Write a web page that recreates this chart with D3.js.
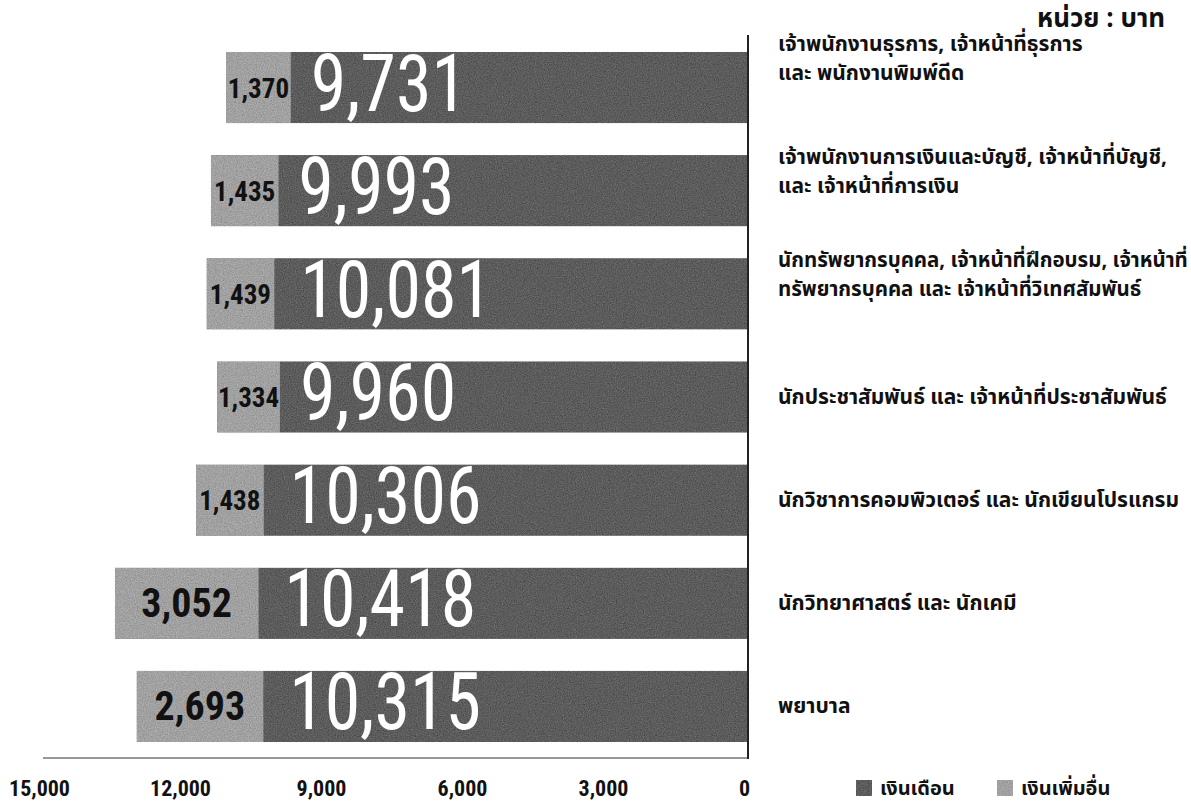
<!DOCTYPE html>
<html>
<head>
<meta charset="utf-8">
<script src="https://cdn.jsdelivr.net/npm/d3@7"></script>
<style>
  html, body { margin: 0; padding: 0; background: #fff; }
  svg { display: block; }
  .thai { font-family: "Noto Sans Thai", "Noto Sans Thai UI", "Loma", "Garuda", "Tlwg Typo", "Noto Sans", "DejaVu Sans", sans-serif; }
  .num { font-family: "Liberation Sans Narrow", "Roboto Condensed", "DejaVu Sans Condensed", sans-serif; }
</style>
</head>
<body>
<svg id="chart" width="1191" height="803"></svg>
<script>
// ---- data ----
const categories = [
  ["เจ้าพนักงานธุรการ, เจ้าหน้าที่ธุรการ", "และ พนักงานพิมพ์ดีด"],
  ["เจ้าพนักงานการเงินและบัญชี, เจ้าหน้าที่บัญชี,", "และ เจ้าหน้าที่การเงิน"],
  ["นักทรัพยากรบุคคล, เจ้าหน้าที่ฝึกอบรม, เจ้าหน้าที่", "ทรัพยากรบุคคล และ เจ้าหน้าที่วิเทศสัมพันธ์"],
  ["นักประชาสัมพันธ์ และ เจ้าหน้าที่ประชาสัมพันธ์"],
  ["นักวิชาการคอมพิวเตอร์ และ นักเขียนโปรแกรม"],
  ["นักวิทยาศาสตร์ และ นักเคมี"],
  ["พยาบาล"]
];
const salary = [9731, 9993, 10081, 9960, 10306, 10418, 10315];   // เงินเดือน
const extra  = [1370, 1435, 1439, 1334, 1438, 3052, 2693];       // เงินเพิ่มอื่น
const tickValues = [15000, 12000, 9000, 6000, 3000, 0];
const legendLabels = ["เงินเดือน", "เงินเพิ่มอื่น"];
const unitLabel = "หน่วย : บาท";

// ---- chart ----
const svg = d3.select("#chart");
const colDark = "#5b5b5b", colLight = "#a0a0a0";

// grain filter to mimic the printed halftone texture
const defs = svg.append("defs");
const f = defs.append("filter").attr("id", "grain").attr("x", 0).attr("y", 0).attr("width", 1).attr("height", 1)
  .attr("color-interpolation-filters", "sRGB");
f.append("feTurbulence").attr("type", "fractalNoise").attr("baseFrequency", 0.85).attr("numOctaves", 2).attr("seed", 7).attr("result", "n");
f.append("feColorMatrix").attr("in", "n").attr("type", "matrix")
  .attr("values", "0.33 0.33 0.33 0 0  0.33 0.33 0.33 0 0  0.33 0.33 0.33 0 0  0 0 0 0 1").attr("result", "g");
f.append("feComposite").attr("in", "SourceGraphic").attr("in2", "g").attr("operator", "arithmetic")
  .attr("k1", 0).attr("k2", 1).attr("k3", 0.45).attr("k4", -0.22).attr("result", "m");
f.append("feComposite").attr("in", "m").attr("in2", "SourceGraphic").attr("operator", "in");

const idx = d3.range(categories.length);
const x = d3.scaleLinear().domain([0, 15000]).range([748, 43]);
const y = d3.scaleBand().domain(idx).range([36, 758]).paddingInner(0.31).paddingOuter(0.155);
const fmt = d3.format(",");

const bars = svg.append("g");
const rects = bars.append("g").attr("filter", "url(#grain)");
// salary (dark) part
rects.selectAll("rect.sal").data(idx).join("rect")
  .attr("x", i => x(salary[i]))
  .attr("y", i => y(i))
  .attr("width", i => x(0) - x(salary[i]))
  .attr("height", y.bandwidth())
  .attr("fill", colDark);
// extra (light) part
rects.selectAll("rect.ext").data(idx).join("rect")
  .attr("x", i => x(salary[i] + extra[i]))
  .attr("y", i => y(i))
  .attr("width", i => x(salary[i]) - x(salary[i] + extra[i]))
  .attr("height", y.bandwidth())
  .attr("fill", colLight);

// big white salary numbers
bars.selectAll("text.big").data(idx).join("text")
  .attr("class", "num")
  .attr("transform", i => `translate(${x(salary[i]) + (salary[i] >= 10000 ? 26 : 20)},${y(i) + y.bandwidth() / 2 + 23}) scale(0.9,1)`)
  .attr("font-size", 80)
  .attr("fill", "#fff")
  .text(i => fmt(salary[i]));

// small extra labels
bars.selectAll("text.small").data(idx).join("text")
  .attr("class", "num")
  .attr("x", i => (x(salary[i]) + x(salary[i] + extra[i])) / 2)
  .attr("y", i => y(i) + y.bandwidth() / 2 + (extra[i] > 2000 ? 14 : 10))
  .attr("text-anchor", "middle")
  .attr("font-size", i => extra[i] > 2000 ? 40 : 27)
  .attr("font-weight", "bold")
  .attr("fill", "#111")
  .text(i => fmt(extra[i]));

// axes lines
svg.append("line").attr("x1", x(0)).attr("x2", x(0)).attr("y1", 35).attr("y2", 759)
  .attr("stroke", "#222").attr("stroke-width", 2);
svg.append("line").attr("x1", x(15000)).attr("x2", x(0)).attr("y1", 758).attr("y2", 758)
  .attr("stroke", "#333").attr("stroke-width", 1.2);

// x tick labels
const axis = d3.axisBottom(x).tickValues(tickValues).tickFormat(fmt).tickSize(0).tickPadding(0);
const ax = svg.append("g").attr("transform", "translate(-4,780)").call(axis);
ax.select(".domain").remove();
ax.selectAll("text").attr("class", "num").attr("font-size", 22).attr("font-weight", "bold").attr("fill", "#111");

// category labels
const lab = svg.append("g");
const maxW = 1188 - 778;
idx.forEach(i => {
  const lines = categories[i];
  const cy = y(i) + y.bandwidth() / 2;
  const t = lab.append("text").attr("class", "thai").attr("font-size", 21).attr("font-weight", "bold")
    .attr("fill", "#111").attr("x", 778);
  if (lines.length === 1) {
    t.append("tspan").attr("x", 778).attr("y", cy + 7).text(lines[0]);
  } else {
    const top = i === 0 ? cy - 37 : cy - 27;
    lines.forEach((l, k) => t.append("tspan").attr("x", 778).attr("y", top + k * 29).text(l));
  }
  // shrink if too wide for the page
  const w = t.node().getBBox().width;
  if (w > maxW) t.attr("font-size", 21 * maxW / w);
});

// unit label
svg.append("text").attr("class", "thai").attr("x", 1165).attr("y", 27)
  .attr("text-anchor", "end").attr("font-size", 26).attr("font-weight", "bold").attr("fill", "#111")
  .text(unitLabel);

// legend
const lg = svg.append("g");
const legX = [856, 997];
const legC = [colDark, colLight];
legendLabels.forEach((l, k) => {
  lg.append("rect").attr("x", legX[k]).attr("y", 780).attr("width", 16).attr("height", 16)
    .attr("fill", legC[k]).attr("filter", "url(#grain)");
  lg.append("text").attr("class", "thai").attr("x", legX[k] + 24).attr("y", 795)
    .attr("font-size", 20).attr("font-weight", "bold").attr("fill", "#111").text(l);
});
</script>
</body>
</html>
